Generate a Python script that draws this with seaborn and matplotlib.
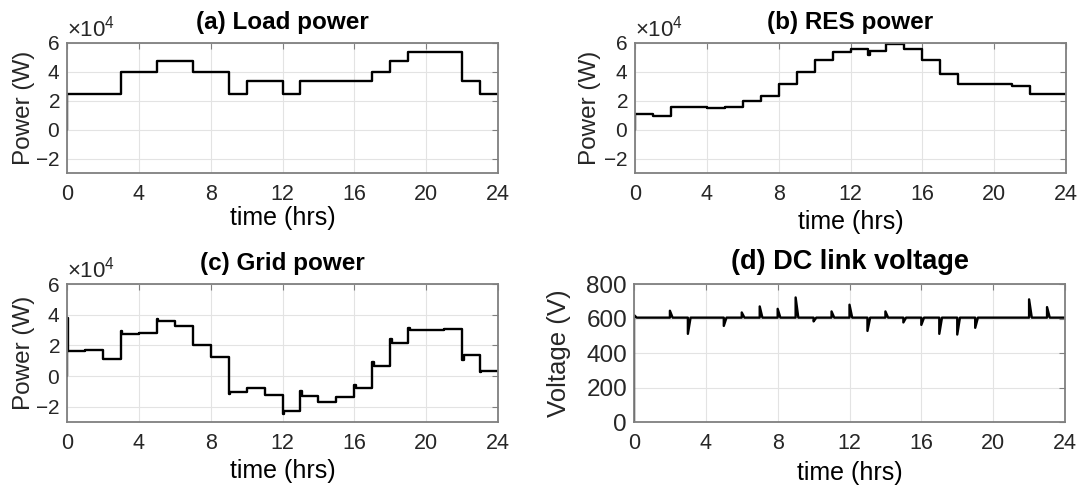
import matplotlib
matplotlib.use("Agg")
import matplotlib.pyplot as plt
from matplotlib.ticker import ScalarFormatter, MultipleLocator
import pandas as pd
import seaborn as sns

# Hourly set-points (W), one value per hour 0..23
hours = list(range(24))
load_w = [25000, 25000, 25000, 40000, 40000, 47500, 47500, 40000, 40000, 25000,
          34000, 34000, 25000, 34000, 34000, 34000, 34000, 40000, 47500, 54000,
          54000, 54000, 34000, 25000]
res_w = [11000, 9500, 16000, 16000, 15200, 16000, 19800, 23000, 31500, 40000,
         48000, 54000, 55500, 54500, 59500, 55500, 48000, 38500, 31500, 31500,
         31500, 30500, 24500, 24500]
grid_w = [16000, 17000, 11000, 27500, 28000, 36000, 32500, 20500, 12500, -10500,
          -7500, -12500, -23000, -13000, -17000, -13500, -8000, 6500, 21500, 30000,
          30000, 30500, 13500, 3500]

# Short transients right after a switching instant (hour, W)
res_trans_t = [13]
res_trans_v = [52000]
grid_trans_t = [0, 3, 5, 9, 12, 13, 16, 17, 18, 19, 22, 23]
grid_trans_v = [38000, 29500, 37000, -11500, -24500, -9500, -6000, 9000, 24000,
                31500, 10500, 2500]

# DC link voltage (V): nominal level and switching spikes
dc_base_v = 605
dc_start_v = 620
dc_spike_t = [2, 3, 5, 6, 7, 8, 9, 10, 11, 12, 13, 14, 15, 16, 17, 18, 19, 22, 23]
dc_spike_v = [645, 511, 557, 635, 670, 656, 722, 583, 641, 680, 528, 641, 577,
              563, 511, 507, 546, 711, 666]

x_ticks = [0, 4, 8, 12, 16, 20, 24]


def step_frame(levels, trans_t=(), trans_v=(), dt=0.08):
    peaks = dict(zip(trans_t, trans_v))
    t, v = [0.0], [0.0]
    for h, lv in zip(hours, levels):
        if h in peaks:
            t += [h, h + dt]
            v += [peaks[h], lv]
        else:
            t.append(h)
            v.append(lv)
    t.append(24)
    v.append(levels[-1])
    return pd.DataFrame({"t": t, "v": v})


def dc_frame(width=0.15):
    t = [0.0, 0.0, width]
    v = [0.0, dc_start_v, dc_base_v]
    for ts, pk in zip(dc_spike_t, dc_spike_v):
        t += [ts, ts, ts + width]
        v += [dc_base_v, pk, dc_base_v]
    t.append(24)
    v.append(dc_base_v)
    return pd.DataFrame({"t": t, "v": v})


sns.set_theme(style="white")
plt.rcParams["font.family"] = ["Liberation Sans", "DejaVu Sans"]
plt.rcParams["mathtext.fontset"] = "custom"
plt.rcParams["mathtext.rm"] = "Liberation Sans"
plt.rcParams["mathtext.it"] = "Liberation Sans:italic"
plt.rcParams["axes.unicode_minus"] = False

fig = plt.figure(figsize=(10.85, 4.86), dpi=100)
W, H = 1085, 486


def add_axes(x0, x1, ytop, ybot):
    return fig.add_axes([x0 / W, 1 - ybot / H, (x1 - x0) / W, (ybot - ytop) / H])


ax_a = add_axes(67, 498, 43, 173)
ax_b = add_axes(635, 1066, 43, 173)
ax_c = add_axes(67, 498, 284, 422)
ax_d = add_axes(634, 1065, 284, 422)

tick_col = "#262626"
spine_col = "#7f7f7f"


def style(ax, title, ylabel, title_y, xlab_y, ylab_x, power=True,
          ytick_size=15, title_size=17.5, ylabel_size=17.5):
    ax.set_xlim(0, 24)
    ax.set_xticks(x_ticks)
    if power:
        ax.set_ylim(-30000, 60000)
        ax.yaxis.set_major_locator(MultipleLocator(20000))
        fmt = ScalarFormatter(useMathText=True)
        fmt.set_powerlimits((-3, 3))
        ax.yaxis.set_major_formatter(fmt)
        ax.yaxis.OFFSETTEXTPAD = 5
        ot = ax.yaxis.get_offset_text()
        ot.set_fontsize(16)
        ot.set_color("#404040")
    else:
        ax.set_ylim(0, 800)
        ax.yaxis.set_major_locator(MultipleLocator(200))
    ax.grid(True, color="#e3e3e3", lw=0.8)
    ax.set_axisbelow(True)
    for s in ax.spines.values():
        s.set_color(spine_col)
        s.set_linewidth(1.3)
    ax.tick_params(axis="both", direction="in", length=4, width=0.8,
                   color=spine_col, labelcolor=tick_col,
                   top=True, right=True)
    ax.tick_params(axis="x", pad=8, labelsize=15.5)
    ax.tick_params(axis="y", pad=5, labelsize=ytick_size)
    ax.set_title(title, fontsize=title_size, fontweight="bold", color="black",
                 y=title_y, va="center", pad=0)
    ax.set_xlabel("time (hrs)", fontsize=18, color="black")
    ax.set_ylabel(ylabel, fontsize=ylabel_size, color=tick_col)
    ax.xaxis.set_label_coords(0.5, xlab_y)
    ax.xaxis.label.set_va("center")
    ax.yaxis.set_label_coords(ylab_x, 0.5)
    ax.yaxis.label.set_va("center")


line_kw = dict(x="t", y="v", estimator=None, sort=False, color="black",
               lw=1.7, legend=False)

sns.lineplot(data=step_frame(load_w), ax=ax_a, drawstyle="steps-post", **line_kw)
sns.lineplot(data=step_frame(res_w, res_trans_t, res_trans_v), ax=ax_b,
             drawstyle="steps-post", **line_kw)
sns.lineplot(data=step_frame(grid_w, grid_trans_t, grid_trans_v), ax=ax_c,
             drawstyle="steps-post", **line_kw)
sns.lineplot(data=dc_frame(), ax=ax_d, **line_kw)

style(ax_a, "(a) Load power", "Power (W)", 1 + (43 - 22) / 130,
      -(218 - 173) / 130, (24 - 67) / 431)
style(ax_b, "(b) RES power", "Power (W)", 1 + (43 - 22) / 130,
      -(222 - 173) / 130, (590 - 635) / 431)
style(ax_c, "(c) Grid power", "Power (W)", 1 + (284 - 263) / 138,
      -(471 - 422) / 138, (24 - 67) / 431)
style(ax_d, "(d) DC link voltage", "Voltage (V)", 1 + (284 - 262) / 138,
      -(473 - 422) / 138, (559 - 634) / 431, power=False,
      ytick_size=17.5, title_size=19.5, ylabel_size=18.5)

fig.savefig("out.png", dpi=100, facecolor="white")
